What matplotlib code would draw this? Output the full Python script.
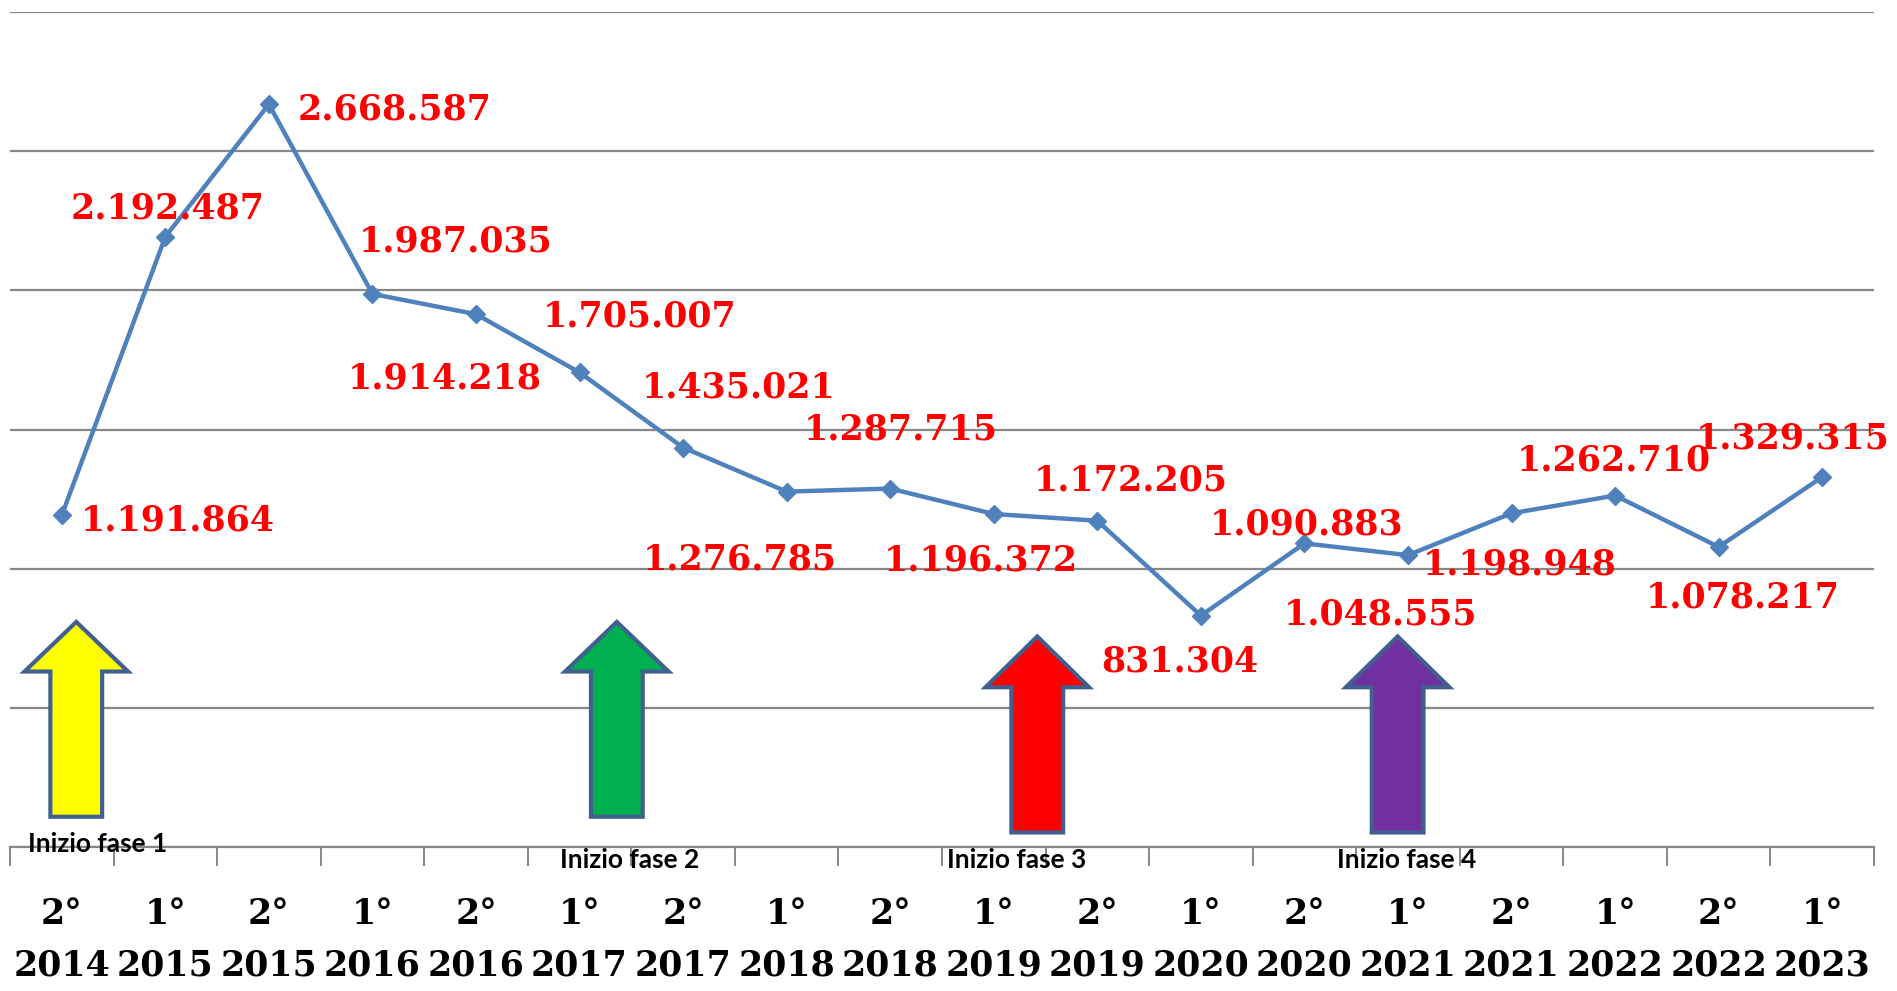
import matplotlib
matplotlib.use("Agg")
import matplotlib.pyplot as plt
from matplotlib.patches import Polygon

# ---- data ----
halves = ["2°", "1°", "2°", "1°", "2°", "1°", "2°", "1°", "2°", "1°", "2°", "1°", "2°", "1°", "2°", "1°", "2°", "1°"]
years = ["2014", "2015", "2015", "2016", "2016", "2017", "2017", "2018", "2018", "2019", "2019",
         "2020", "2020", "2021", "2021", "2022", "2022", "2023"]
values = [1191864, 2192487, 2668587, 1987035, 1914218, 1705007, 1435021, 1276785, 1287715,
          1196372, 1172205, 831304, 1090883, 1048555, 1198948, 1262710, 1078217, 1329315]

phase_labels = ["Inizio fase 1", "Inizio fase 2", "Inizio fase 3", "Inizio fase 4"]
phase_colors = ["#FFFF00", "#00B050", "#FF0000", "#7030A0"]

# ---- layout (pixel offsets of value labels relative to the point; x right, y down) ----
label_offsets = [(116, 5), (2, -28), (126, 5), (83, -52), (-31, 64), (60, -56), (56, -60),
                 (-47, 68), (11, -59), (-13, 46), (33, -40), (-21, 46), (2, -19), (-28, 59),
                 (8, 51), (-1, -35), (24, 51), (-30, -39)]
# arrow geometry: (x center, tip, head base, bottom) in data units
arrow_geom = [(0.14, 808700, 630400, 108700),
              (5.36, 808700, 630400, 108700),
              (9.42, 756500, 573900, 52200),
              (12.90, 756500, 573900, 52200)]
phase_text_pos = [(0.35, 10800), (5.48, -47000), (9.22, -47000), (12.99, -47000)]

W, H = 1897, 991
fig = plt.figure(figsize=(W / 100, H / 100), dpi=100)
left, right, top, bottom = 10, 1874, 12, 847
ax = fig.add_axes([left / W, 1 - bottom / H, (right - left) / W, (bottom - top) / H])

x = list(range(len(values)))
ax.set_xlim(-0.5, len(values) - 0.5)
ax.set_ylim(0, 3000000)

# gridlines
ax.set_yticks([i * 500000 for i in range(7)])
ax.yaxis.grid(True, color="#878787", linewidth=1.6)
ax.set_axisbelow(True)
ax.tick_params(axis="y", left=False, labelleft=False)
for s in ["left", "right", "top"]:
    ax.spines[s].set_visible(False)
ax.spines["bottom"].set_color("#878787")
ax.spines["bottom"].set_linewidth(1.6)

# x ticks
ax.set_xticks(x)
ax.set_xticklabels([f"{h}\n{y}" for h, y in zip(halves, years)],
                   fontfamily="DejaVu Serif", fontweight="bold", fontsize=25, linespacing=1.65)
ax.tick_params(axis="x", which="major", length=0, pad=36)
ax.set_xticks([i - 0.5 for i in range(len(values) + 1)], minor=True)
ax.tick_params(axis="x", which="minor", length=14, width=1.4, color="#878787", direction="out")

# arrows
for (cx, tip, hb, bot), col in zip(arrow_geom, phase_colors):
    hw, sw = 0.50, 0.25
    poly = [(cx - sw, bot), (cx - sw, hb), (cx - hw, hb), (cx, tip),
            (cx + hw, hb), (cx + sw, hb), (cx + sw, bot)]
    ax.add_patch(Polygon(poly, closed=True, facecolor=col, edgecolor="#41608F",
                         linewidth=3, zorder=2, clip_on=False))

for (tx, ty), txt in zip(phase_text_pos, phase_labels):
    ax.text(tx, ty, txt, ha="center", va="center", fontsize=19, fontweight="bold",
            family=["Liberation Sans Narrow", "Lato"], color="black", clip_on=False, zorder=4)

# line
ax.plot(x, values, color="#4F81BD", linewidth=3.2, marker="D", markersize=9,
        markerfacecolor="#4F81BD", markeredgecolor="#4F81BD", zorder=3, clip_on=False)

# value labels
for xi, v, (dx, dy) in zip(x, values, label_offsets):
    s = f"{v:,}".replace(",", ".")
    ax.annotate(s, (xi, v), xytext=(dx, -dy), textcoords="offset pixels",
                ha="center", va="center", color="#FF0000", fontsize=25,
                fontfamily="DejaVu Serif", fontweight="bold", zorder=5, annotation_clip=False)

fig.savefig("out.png", dpi=100)
